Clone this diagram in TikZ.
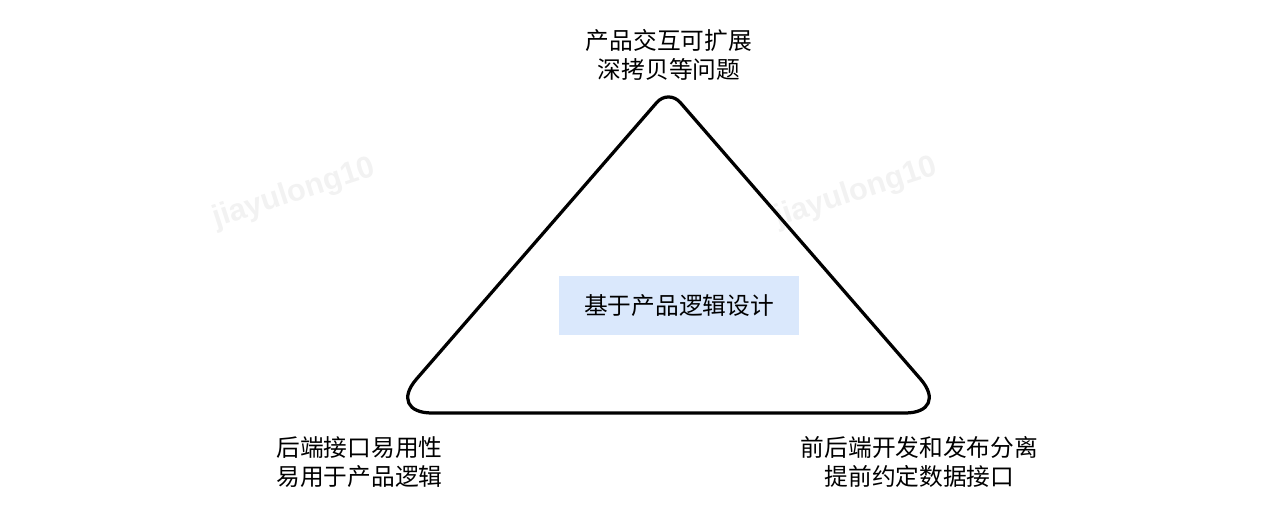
\documentclass[tikz,border=0pt]{standalone}
\usepackage{fontspec}
\setmainfont{Noto Sans CJK SC}
\newfontfamily\marksans{Liberation Sans}
\usepackage{tikz}
\usetikzlibrary{positioning, calc}
\definecolor{boxblue}{HTML}{DAE8FC}
\definecolor{markgray}{HTML}{F2F2F2}

\begin{document}
\begin{tikzpicture}[x=0.02cm, y=-0.02cm,
    label/.style={font=\fontsize{13.5}{16.5}\selectfont, align=center, inner sep=0pt},
    watermark/.style={font=\marksans\bfseries\fontsize{17.5}{20}\selectfont, markgray, rotate=18}]
  \useasboundingbox (0,0) rectangle (1270,516);
  % watermarks
  \node[watermark] (wmleft) at (294,194) {jiayulong10};
  \node[watermark] (wmright) at (856,193) {jiayulong10};
  % triangle corners
  \coordinate (top) at (668.5,89);
  \coordinate (left) at (387,413);
  \coordinate (right) at (950,413);
  \coordinate (base) at (668.5,413);
  \draw[line width=0.065cm, line join=round]
    (base) [rounded corners=0.9cm] -- (left) [rounded corners=0.36cm] -- (top)
    [rounded corners=0.9cm] -- (right) -- (base);
  % center box
  \node[label, fill=boxblue, minimum width=4.8cm, minimum height=1.18cm] (core) at (679,305.5) {基于产品逻辑设计};
  % corner texts
  \node[label] (toptext) at (669,55) {产品交互可扩展\\深拷贝等问题};
  \node[label] (lefttext) at (359.5,462) {后端接口易用性\\易用于产品逻辑};
  \node[label] (righttext) at (919.5,462) {前后端开发和发布分离\\提前约定数据接口};
\end{tikzpicture}
\end{document}
